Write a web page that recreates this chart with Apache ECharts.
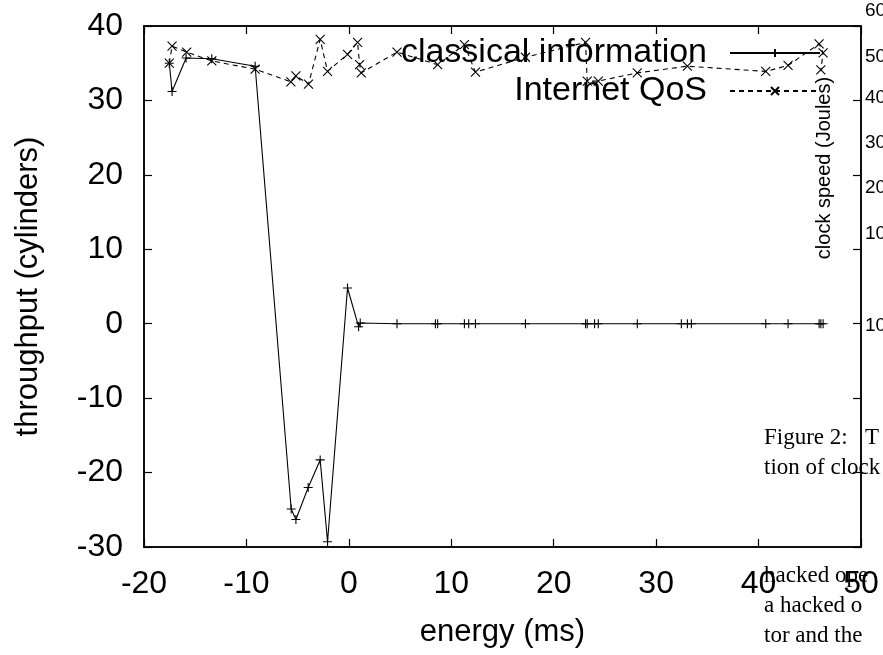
<!DOCTYPE html>
<html lang="en">
<head>
    <meta charset="UTF-8">
    <title>throughput vs energy</title>
    <style>
        html, body { margin: 0; padding: 0; background: #fff; }
        #main { width: 883px; height: 655px; }
    </style>
</head>
<body>
    <div id="main"></div>
</body>
<script src="https://cdn.jsdelivr.net/npm/echarts@6/dist/echarts.min.js"></script>
<script>
    var main = echarts.init(document.getElementById('main'));

    // classical information (solid, + markers)
    var classicalX = [-17.53, -17.26, -15.89, -13.38, -9.15, -5.63, -5.17, -3.97, -2.80, -2.08, -0.13, 0.95, 1.11,
        4.70, 8.45, 8.67, 11.28, 11.70, 12.36, 17.24, 23.11, 23.27, 23.99, 24.35, 28.16, 32.46, 33.05, 33.44,
        40.70, 42.88, 45.91, 46.08, 46.30];
    var classicalY = [35.0, 31.2, 35.7, 35.6, 34.6, -24.9, -26.3, -22.0, -18.3, -29.3, 4.8, -0.4, 0.1,
        0, 0, 0, 0, 0, 0, 0, 0, 0, 0, 0, 0, 0, 0, 0,
        0, 0, 0, 0, 0];

    // Internet QoS (dashed, x markers)
    var qosX = [-17.53, -17.26, -15.83, -13.38, -9.15, -5.66, -5.17, -3.94, -2.80, -2.08, -0.13, 0.85, 1.05, 1.21,
        4.70, 8.67, 11.28, 12.36, 17.24, 23.11, 23.27, 24.35, 28.16, 33.05, 40.70, 42.88, 45.91, 46.30, 46.08];
    var qosY = [35.0, 37.3, 36.5, 35.3, 34.2, 32.5, 33.3, 32.2, 38.2, 33.9, 36.2, 37.8, 34.8, 33.7,
        36.5, 34.8, 37.5, 33.8, 35.8, 37.8, 32.6, 32.6, 33.7, 34.6, 33.9, 34.7, 37.6, 36.4, 34.1];

    var xTicks = { min: -20, max: 50, interval: 10 };
    var yTicks = { min: -30, max: 40, interval: 10 };

    // text bleeding in from the neighbouring figure
    var sideLabels = ['60', '50', '40', '30', '20', '10', '10'];
    var sideLabelY = [11, 57, 98, 143, 188, 234, 326];
    var captionLines = ['Figure 2:   T', 'tion of clock', 'hacked ope', 'a hacked o', 'tor and the'];
    var captionY = [438, 468, 576, 606, 636];

    function zip(xs, ys) {
        return xs.map(function (x, i) { return [x, ys[i]]; });
    }

    var font = '"Liberation Sans", Arial, Helvetica, sans-serif';
    var plusIcon = 'path://M0,5L10,5M5,0L5,10';
    var crossIcon = 'path://M0,0L10,10M0,10L10,0';

    var graphics = [];
    sideLabels.forEach(function (t, i) {
        graphics.push({
            type: 'text', x: 865, y: sideLabelY[i],
            style: { text: t, font: '19px ' + font, fill: '#000', textVerticalAlign: 'middle' }
        });
    });
    graphics.push({
        type: 'text', x: 824, y: 168, rotation: Math.PI / 2,
        style: { text: 'clock speed (Joules)', font: '20px ' + font, fill: '#000',
            textAlign: 'center', textVerticalAlign: 'middle' }
    });
    captionLines.forEach(function (t, i) {
        graphics.push({
            type: 'text', x: 764, y: captionY[i],
            style: { text: t, font: '23px "Liberation Serif", "Times New Roman", serif', fill: '#000',
                textVerticalAlign: 'middle' }
        });
    });

    var axisCommon = {
        type: 'value',
        axisLine: { show: true, onZero: false, lineStyle: { color: '#000', width: 1.5 } },
        axisTick: { show: true, inside: true, length: 8, lineStyle: { color: '#000', width: 1.2 } },
        splitLine: { show: false }
    };

    var legendText = { fontSize: 34, color: '#000', fontFamily: font, padding: [0, 18, 0, 0] };

    var option = {
        backgroundColor: '#fff',
        animation: false,
        textStyle: { fontFamily: font },
        grid: {
            left: 144, right: 22, top: 26, bottom: 108,
            show: true, borderColor: '#000', borderWidth: 1.5, backgroundColor: 'transparent'
        },
        legend: [{
            data: ['classical information'],
            right: 57, top: 31,
            align: 'right', itemWidth: 90, itemHeight: 10,
            textStyle: legendText
        }, {
            data: ['Internet QoS'],
            right: 57, top: 69,
            align: 'right', itemWidth: 90, itemHeight: 10,
            textStyle: legendText
        }],
        xAxis: [
            Object.assign({}, axisCommon, xTicks, {
                position: 'bottom',
                name: 'energy (ms)', nameLocation: 'middle', nameGap: 70,
                nameTextStyle: { fontSize: 31, color: '#000', fontFamily: font },
                axisLabel: { fontSize: 32, color: '#000', margin: 21, fontFamily: font }
            }),
            Object.assign({}, axisCommon, xTicks, {
                position: 'top', axisLabel: { show: false }
            })
        ],
        yAxis: [
            Object.assign({}, axisCommon, yTicks, {
                position: 'left',
                name: 'throughput (cylinders)', nameLocation: 'middle', nameGap: 100,
                nameTextStyle: { fontSize: 31, color: '#000', fontFamily: font },
                axisLabel: { fontSize: 32, color: '#000', margin: 21, fontFamily: font }
            }),
            Object.assign({}, axisCommon, yTicks, {
                position: 'right', axisLabel: { show: false }
            })
        ],
        series: [{
            name: 'classical information',
            type: 'line',
            data: zip(classicalX, classicalY),
            symbol: plusIcon,
            symbolSize: 9,
            showAllSymbol: true,
            itemStyle: { color: '#000', borderColor: '#000', borderWidth: 1.1 },
            lineStyle: { color: '#000', width: 1.1 },
            z: 3
        }, {
            name: 'Internet QoS',
            type: 'line',
            data: zip(qosX, qosY),
            symbol: crossIcon,
            symbolSize: 9,
            showAllSymbol: true,
            itemStyle: { color: '#000', borderColor: '#000', borderWidth: 1.1 },
            lineStyle: { color: '#000', width: 1.1, type: [5, 4] },
            z: 3
        }],
        graphic: graphics
    };
    main.setOption(option);
</script>
</html>
